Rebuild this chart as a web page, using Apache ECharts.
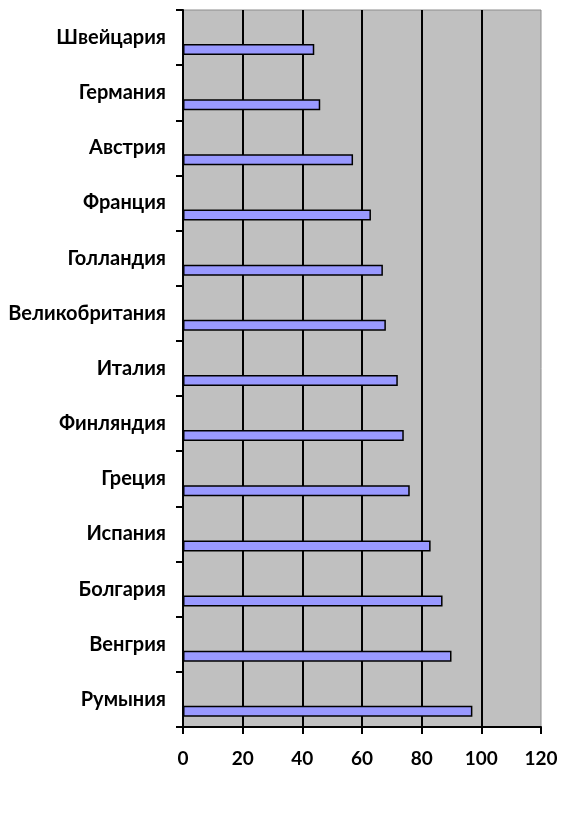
<!DOCTYPE html>
<html>
<head>
<meta charset="utf-8">
<script src="https://cdn.jsdelivr.net/npm/echarts@6/dist/echarts.min.js"></script>
<style>
  html, body { margin: 0; padding: 0; background: #fff; }
  #chart { width: 563px; height: 821px; }
</style>
</head>
<body>
<div id="chart"></div>
<script>
var countries = ['Швейцария', 'Германия', 'Австрия', 'Франция', 'Голландия', 'Великобритания',
	'Италия', 'Финляндия', 'Греция', 'Испания', 'Болгария', 'Венгрия', 'Румыния'];
var values = [44, 46, 57, 63, 67, 68, 72, 74, 76, 83, 87, 90, 97];
var xTicks = [0, 20, 40, 60, 80, 100, 120];

var myChart = echarts.init(document.getElementById('chart'));
var font = 'Lato, "Open Sans", sans-serif';

var option = {
	animation: false,
	backgroundColor: '#ffffff',
	grid: {
		left: 183,
		right: 22,
		top: 10,
		bottom: 94,
		show: true,
		backgroundColor: '#c0c0c0',
		borderColor: '#8c8c8c',
		borderWidth: 1
	},
	xAxis: {
		type: 'value',
		min: xTicks[0],
		max: xTicks[xTicks.length - 1],
		interval: 20,
		axisLine: { show: true, lineStyle: { color: '#000', width: 2 } },
		axisTick: { show: true, length: 7, lineStyle: { color: '#000', width: 2 } },
		axisLabel: {
			margin: 22,
			color: '#000',
			fontFamily: font,
			fontWeight: 'bold',
			fontSize: 19
		},
		splitLine: { show: true, showMinLine: false, showMaxLine: false, lineStyle: { color: '#000', width: 2 } }
	},
	yAxis: {
		type: 'category',
		inverse: true,
		data: countries,
		axisLine: { show: true, lineStyle: { color: '#000', width: 2 } },
		axisTick: { show: true, length: 7, lineStyle: { color: '#000', width: 2 } },
		axisLabel: {
			margin: 17,
			color: '#000',
			fontFamily: font,
			fontWeight: 'bold',
			fontSize: 20
		},
		splitLine: { show: false }
	},
	series: [{
		// пустой ряд, чтобы сдвинуть полосы вниз внутри категории
		type: 'bar',
		data: countries.map(function() { return '-'; }),
		barWidth: 11,
		barGap: '117%',
		silent: true
	}, {
		type: 'bar',
		data: values,
		barWidth: 11,
		barGap: '117%',
		itemStyle: {
			color: '#9999ff',
			borderColor: '#000',
			borderWidth: 1.5
		}
	}]
};
myChart.setOption(option);
</script>
</body>
</html>
